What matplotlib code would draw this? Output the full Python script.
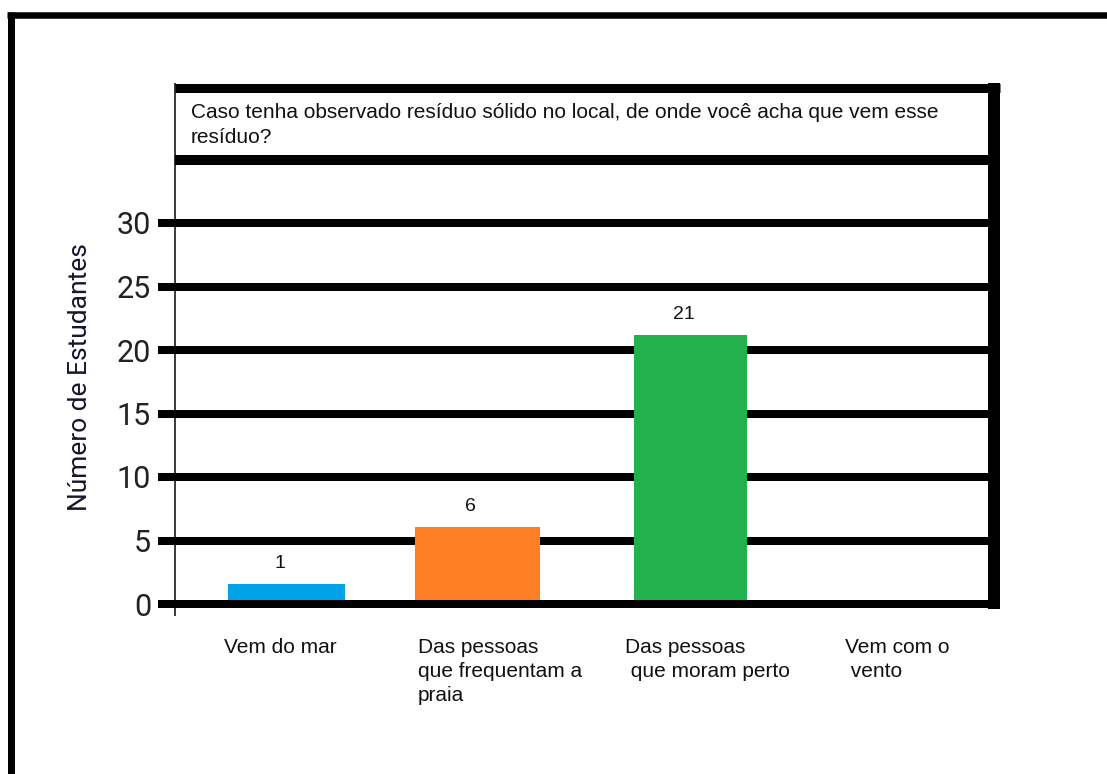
import matplotlib
matplotlib.use("Agg")
import matplotlib.pyplot as plt
import matplotlib.transforms as mtransforms

# ---- data ----
categories = ["Vem do mar",
              "Das pessoas\nque frequentam a\npraia",
              "Das pessoas\n que moram perto",
              "Vem com o\n vento"]
values = [1, 6, 21, 0]               # printed labels
bar_heights = [1.55, 6.05, 21.2, 0]  # heights as drawn in the picture
colors = ["#00A2E8", "#FF7F27", "#22B14C", "#FFFFFF"]
y_ticks = [0, 5, 10, 15, 20, 25, 30]
title_text = ("Caso tenha observado resíduo sólido no local, de onde você acha que vem esse\n"
              "resíduo?")
y_label = "Número de Estudantes"

# ---- layout ----
W, H = 1107, 774
PX = 0.72  # points per pixel at 100 dpi
fig = plt.figure(figsize=(W / 100, H / 100), dpi=100)

positions = [0, 0.95, 2.01, 3.0]
widths = [0.58, 0.62, 0.56, 0.58]
label_dx = [-0.311, -0.296, -0.326, -0.221]

ax = fig.add_axes([174.5 / W, 1 - 616 / H, (994 - 174.5) / W, (616 - 160) / H])
ax.set_xlim((174.5 - 286.5) / 201, (994 - 286.5) / 201)
ax.set_ylim(-(616 - 604) / 12.7, (604 - 160) / 12.7)
for s in ax.spines.values():
    s.set_visible(False)
ax.set_xticks([])
ax.set_yticks(y_ticks)
ax.set_yticklabels([str(t) for t in y_ticks], fontfamily="Roboto", fontsize=22, color="#222222")
ax.tick_params(axis="y", length=0, pad=23.5 * PX)

xl = ax.get_xlim()
grid_left = (158 - 286.5) / 201
for t in y_ticks:
    ax.hlines(t, grid_left, xl[1], colors="black", lw=8 * PX, clip_on=False,
              zorder=3 if t == 0 else 1)

ax.bar(positions, bar_heights, width=widths, color=colors, zorder=2)

for p, h, v in zip(positions, bar_heights, values):
    if v > 0:
        ax.annotate(str(v), (p, h), xytext=(-7 * PX, 12 * PX), textcoords="offset points",
                    ha="center", va="bottom", fontsize=14, fontfamily="Liberation Sans",
                    color="#111111")

trans = mtransforms.blended_transform_factory(ax.transData, ax.transAxes)
for p, dx, lab in zip(positions, label_dx, categories):
    ax.text(p + dx, (616 - 638) / 456, lab, transform=trans, ha="left", va="top",
            multialignment="left", fontsize=15, fontfamily="Liberation Sans",
            linespacing=1.33, color="#111111")

ax.set_ylabel(y_label, fontfamily="Roboto", fontsize=19, color="#15152e")
ax.yaxis.set_label_coords((80 - 174.5) / 819.5, (616 - 377) / 456)
ax.yaxis.label.set_va("center")

# ---- frames (pixel overlay) ----
ov = fig.add_axes([0, 0, 1, 1], facecolor="none")
ov.set_xlim(0, W)
ov.set_ylim(H, 0)
ov.axis("off")
ov.set_zorder(5)

def seg(x0, y0, x1, y1, w):
    ov.plot([x0, x1], [y0, y1], color="black", lw=w * PX, solid_capstyle="butt")

seg(10.5, 12, 10.5, H + 5, 7)       # outer left
seg(7, 15, W + 5, 15, 6.5)          # outer top
seg(174.5, 87.5, 1000, 87.5, 9)     # title box top
seg(174.5, 160, 994, 160, 10)       # title box bottom
seg(994, 83, 994, 609, 12)          # right border
seg(174.5, 83, 174.5, 616, 1.5)     # left thin line

ov.text(191, 103, title_text, ha="left", va="top", fontsize=15,
        fontfamily="Liberation Sans", linespacing=1.42, color="#111111")

fig.savefig("out.png", dpi=100)
